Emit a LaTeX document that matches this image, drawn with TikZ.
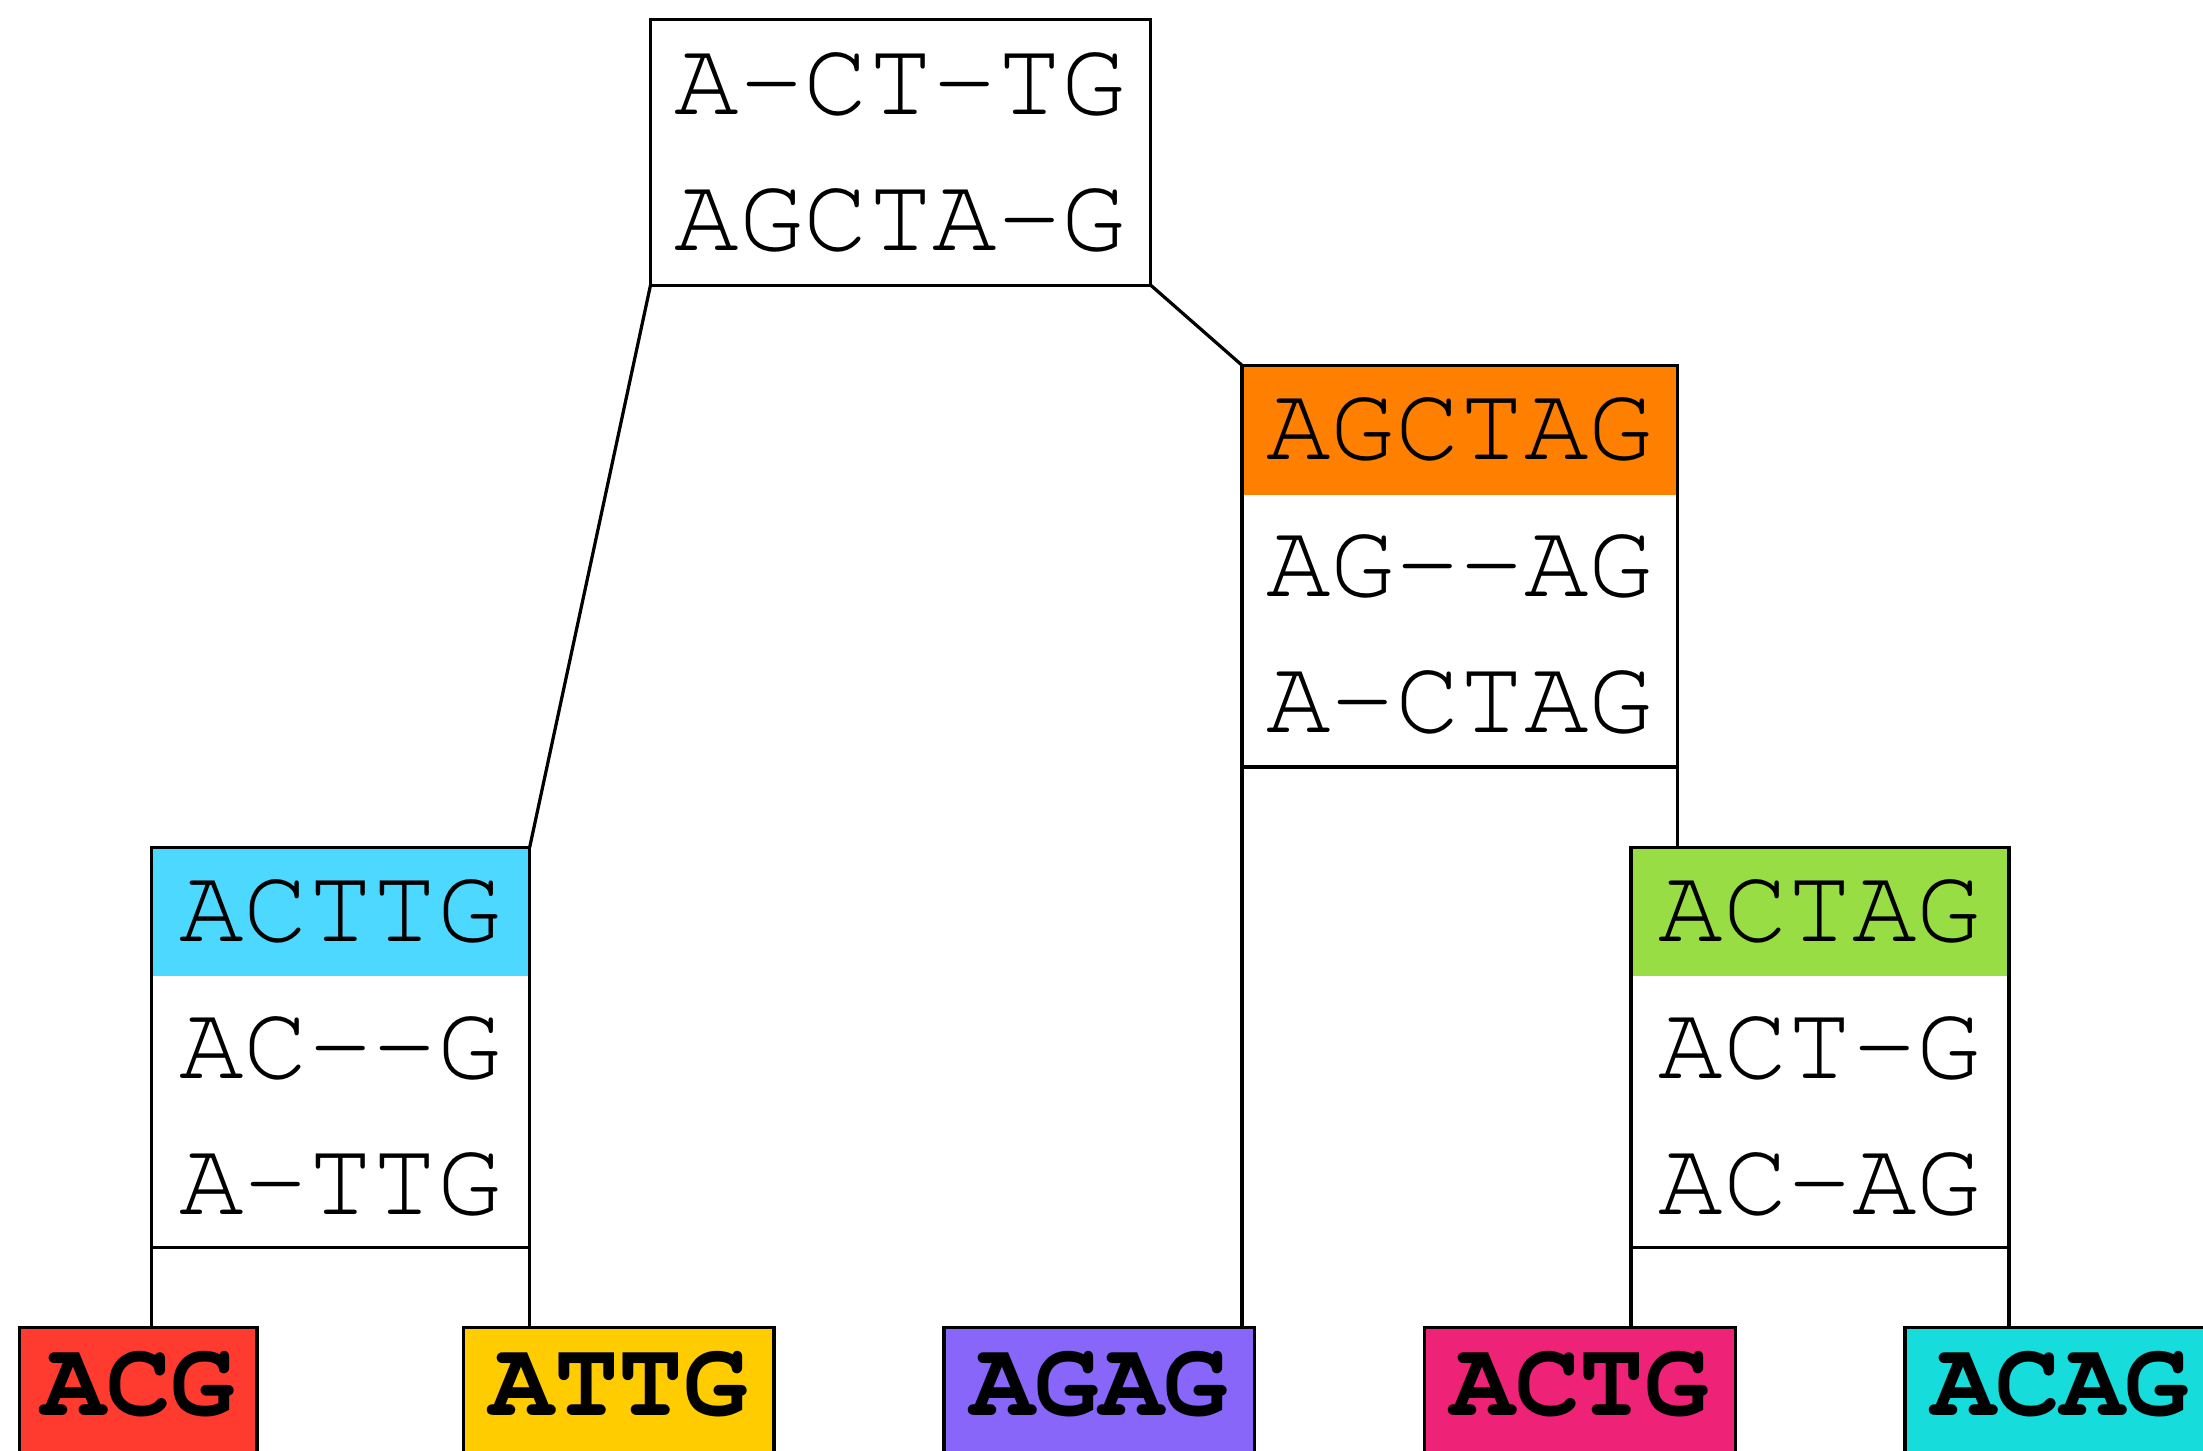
\documentclass[tikz,border=0pt]{standalone}
\usepackage[T1]{fontenc}
\definecolor{hdrorange}{HTML}{FF8000}
\definecolor{hdrblue}{HTML}{4DD9FF}
\definecolor{hdrgreen}{HTML}{99DD44}
\definecolor{leafred}{HTML}{FF3B30}
\definecolor{leafyellow}{HTML}{FFCC00}
\definecolor{leafpurple}{HTML}{8866FA}
\definecolor{leafpink}{HTML}{EE2277}
\definecolor{leafcyan}{HTML}{16DCDC}
\begin{document}
\begin{tikzpicture}[x=1mm,y=-1mm,
  every node/.style={outer sep=0pt},
  box/.style={draw=black, line width=0.92pt, rectangle, inner sep=0pt, anchor=north west},
  inner/.style={box, minimum width=37.8mm, minimum height=40.04mm},
  leaf/.style={box, minimum height=20mm},
  seq/.style={anchor=base, inner sep=0pt, font={\fontfamily{pcr}\fontsize{30.6}{36}\selectfont}},
  leafseq/.style={anchor=base, inner sep=0pt, font={\fontfamily{pcr}\bfseries\fontsize{30.6}{36}\selectfont}},
  link/.style={line width=0.92pt, black}]
\useasboundingbox (0,0) rectangle (220.3,145.1);

% header bands of the inner nodes
\fill[hdrorange] (124.2,36.53) rectangle (167.76,49.46);
\fill[hdrblue] (15.17,84.72) rectangle (52.97,97.65);
\fill[hdrgreen] (163.1,84.72) rectangle (200.9,97.65);

% root alignment
\node[box, minimum width=50.02mm, minimum height=26.55mm] (root) at (65.05,1.97) {};
\node[seq] (root-a) at (90.06,11.45) {A-CT-TG};
\node[seq] (root-b) at (90.06,25.08) {AGCTA-G};

% inner node AGCTAG
\node[box, minimum width=43.56mm, minimum height=40.18mm] (anc) at (124.2,36.53) {};
\node[seq] (anc-h) at (145.98,46.0) {AGCTAG};
\node[seq] (anc-a) at (145.98,59.63) {AG-{}-AG};
\node[seq] (anc-b) at (145.98,73.26) {A-CTAG};

% inner node ACTTG
\node[inner] (blue) at (15.17,84.72) {};
\node[seq] (blue-h) at (34.07,94.2) {ACTTG};
\node[seq] (blue-a) at (34.07,107.82) {AC-{}-G};
\node[seq] (blue-b) at (34.07,121.45) {A-TTG};

% inner node ACTAG
\node[inner] (grn) at (163.1,84.72) {};
\node[seq] (grn-h) at (182.0,94.2) {ACTAG};
\node[seq] (grn-a) at (182.0,107.82) {ACT-G};
\node[seq] (grn-b) at (182.0,121.45) {AC-AG};

% leaves
\node[leaf, fill=leafred, minimum width=23.73mm] (acg) at (1.97,132.77) {};
\node[leafseq] (acg-t) at (13.835,141.6) {ACG};
\node[leaf, fill=leafyellow, minimum width=31.04mm] (attg) at (46.36,132.77) {};
\node[leafseq] (attg-t) at (61.88,141.6) {ATTG};
\node[leaf, fill=leafpurple, minimum width=31.04mm] (agag) at (94.4,132.77) {};
\node[leafseq] (agag-t) at (109.93,141.6) {AGAG};
\node[leaf, fill=leafpink, minimum width=31.04mm] (actg) at (142.47,132.77) {};
\node[leafseq] (actg-t) at (157.99,141.6) {ACTG};
\node[leaf, fill=leafcyan, minimum width=31.04mm] (acag) at (190.5,132.77) {};
\node[leafseq] (acag-t) at (206.03,141.6) {ACAG};

% tree edges
\draw[link] (root.south west) -- (blue.north east);
\draw[link] (root.south east) -- (anc.north west);
\draw[link] (blue.south west) -- (blue.south west |- acg.north);
\draw[link] (blue.south east) -- (blue.south east |- attg.north);
\draw[link] (anc.south west) -- (anc.south west |- agag.north);
\draw[link] (anc.south east) -- (anc.south east |- grn.north);
\draw[link] (grn.south west) -- (grn.south west |- actg.north);
\draw[link] (grn.south east) -- (grn.south east |- acag.north);
\end{tikzpicture}
\end{document}
